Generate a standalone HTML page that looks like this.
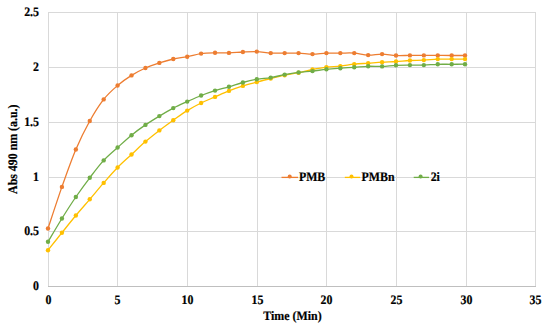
<!DOCTYPE html>
<html><head><meta charset="utf-8"><style>
html,body{margin:0;padding:0;background:#fff;width:550px;height:330px;overflow:hidden}
svg{display:block}
text{font-family:"Liberation Serif",serif;font-weight:bold;font-size:13px;fill:#000;stroke:#000;stroke-width:0.2px;text-rendering:geometricPrecision}
</style></head><body>
<svg width="550" height="330" viewBox="0 0 550 330">
<rect width="550" height="330" fill="#fff"/>
<g stroke="#D9D9D9" stroke-width="1" shape-rendering="crispEdges"><line x1="48.5" y1="12" x2="48.5" y2="286"/><line x1="117.5" y1="12" x2="117.5" y2="286"/><line x1="187.5" y1="12" x2="187.5" y2="286"/><line x1="257.5" y1="12" x2="257.5" y2="286"/><line x1="326.5" y1="12" x2="326.5" y2="286"/><line x1="396.5" y1="12" x2="396.5" y2="286"/><line x1="466.5" y1="12" x2="466.5" y2="286"/><line x1="535.5" y1="12" x2="535.5" y2="286"/><line x1="48" y1="12.5" x2="536" y2="12.5"/><line x1="48" y1="67.5" x2="536" y2="67.5"/><line x1="48" y1="122.5" x2="536" y2="122.5"/><line x1="48" y1="177.5" x2="536" y2="177.5"/><line x1="48" y1="231.5" x2="536" y2="231.5"/></g>
<line x1="48" y1="286.5" x2="536" y2="286.5" stroke="#BFBFBF" stroke-width="1" shape-rendering="crispEdges"/>
<path d="M48.00,228.50 C50.32,221.57 57.28,200.07 61.92,186.90 C66.56,173.73 71.20,160.48 75.84,149.50 C80.48,138.52 85.12,129.35 89.76,121.00 C94.40,112.65 99.04,105.32 103.68,99.40 C108.32,93.48 112.96,89.50 117.60,85.50 C122.24,81.50 126.88,78.32 131.52,75.40 C136.16,72.48 140.80,70.08 145.44,68.00 C150.08,65.92 154.72,64.40 159.36,62.90 C164.00,61.40 168.64,60.03 173.28,59.00 C177.92,57.97 182.56,57.60 187.20,56.70 C191.84,55.80 196.48,54.25 201.12,53.60 C205.76,52.95 210.40,52.92 215.04,52.80 C219.68,52.68 224.32,53.03 228.96,52.90 C233.60,52.77 238.24,52.22 242.88,52.00 C247.52,51.78 252.16,51.42 256.80,51.60 C261.44,51.78 266.08,52.85 270.72,53.10 C275.36,53.35 280.00,53.10 284.64,53.10 C289.28,53.10 293.92,52.93 298.56,53.10 C303.20,53.27 307.84,54.10 312.48,54.10 C317.12,54.10 321.76,53.27 326.40,53.10 C331.04,52.93 335.68,53.10 340.32,53.10 C344.96,53.10 349.60,52.77 354.24,53.10 C358.88,53.43 363.52,54.93 368.16,55.10 C372.80,55.27 377.44,54.03 382.08,54.10 C386.72,54.17 391.36,55.28 396.00,55.50 C400.64,55.72 405.28,55.42 409.92,55.40 C414.56,55.38 419.20,55.40 423.84,55.40 C428.48,55.40 433.12,55.38 437.76,55.40 C442.40,55.42 447.14,55.48 451.68,55.50 C456.22,55.52 462.78,55.50 465.00,55.50" fill="none" stroke="#ED7D31" stroke-width="1.3" stroke-linejoin="round"/><g fill="#ED7D31"><circle cx="48.00" cy="228.50" r="2.2"/><circle cx="61.92" cy="186.90" r="2.2"/><circle cx="75.84" cy="149.50" r="2.2"/><circle cx="89.76" cy="121.00" r="2.2"/><circle cx="103.68" cy="99.40" r="2.2"/><circle cx="117.60" cy="85.50" r="2.2"/><circle cx="131.52" cy="75.40" r="2.2"/><circle cx="145.44" cy="68.00" r="2.2"/><circle cx="159.36" cy="62.90" r="2.2"/><circle cx="173.28" cy="59.00" r="2.2"/><circle cx="187.20" cy="56.70" r="2.2"/><circle cx="201.12" cy="53.60" r="2.2"/><circle cx="215.04" cy="52.80" r="2.2"/><circle cx="228.96" cy="52.90" r="2.2"/><circle cx="242.88" cy="52.00" r="2.2"/><circle cx="256.80" cy="51.60" r="2.2"/><circle cx="270.72" cy="53.10" r="2.2"/><circle cx="284.64" cy="53.10" r="2.2"/><circle cx="298.56" cy="53.10" r="2.2"/><circle cx="312.48" cy="54.10" r="2.2"/><circle cx="326.40" cy="53.10" r="2.2"/><circle cx="340.32" cy="53.10" r="2.2"/><circle cx="354.24" cy="53.10" r="2.2"/><circle cx="368.16" cy="55.10" r="2.2"/><circle cx="382.08" cy="54.10" r="2.2"/><circle cx="396.00" cy="55.50" r="2.2"/><circle cx="409.92" cy="55.40" r="2.2"/><circle cx="423.84" cy="55.40" r="2.2"/><circle cx="437.76" cy="55.40" r="2.2"/><circle cx="451.68" cy="55.50" r="2.2"/><circle cx="465.00" cy="55.50" r="2.2"/></g><path d="M48.00,250.20 C50.32,247.28 57.28,238.48 61.92,232.70 C66.56,226.92 71.20,221.07 75.84,215.50 C80.48,209.93 85.12,204.73 89.76,199.30 C94.40,193.87 99.04,188.20 103.68,182.90 C108.32,177.60 112.96,172.23 117.60,167.50 C122.24,162.77 126.88,158.82 131.52,154.50 C136.16,150.18 140.80,145.62 145.44,141.60 C150.08,137.58 154.72,133.97 159.36,130.40 C164.00,126.83 168.64,123.50 173.28,120.20 C177.92,116.90 182.56,113.47 187.20,110.60 C191.84,107.73 196.48,105.28 201.12,103.00 C205.76,100.72 210.40,98.92 215.04,96.90 C219.68,94.88 224.32,92.73 228.96,90.90 C233.60,89.07 238.24,87.37 242.88,85.90 C247.52,84.43 252.16,83.33 256.80,82.10 C261.44,80.87 266.08,79.65 270.72,78.50 C275.36,77.35 280.00,76.17 284.64,75.20 C289.28,74.23 293.92,73.65 298.56,72.70 C303.20,71.75 307.84,70.43 312.48,69.50 C317.12,68.57 321.76,67.67 326.40,67.10 C331.04,66.53 335.68,66.58 340.32,66.10 C344.96,65.62 349.60,64.68 354.24,64.20 C358.88,63.72 363.52,63.53 368.16,63.20 C372.80,62.87 377.44,62.48 382.08,62.20 C386.72,61.92 391.36,61.78 396.00,61.50 C400.64,61.22 405.28,60.73 409.92,60.50 C414.56,60.27 419.20,60.33 423.84,60.10 C428.48,59.87 433.12,59.27 437.76,59.10 C442.40,58.93 447.14,59.10 451.68,59.10 C456.22,59.10 462.78,59.10 465.00,59.10" fill="none" stroke="#FFC000" stroke-width="1.3" stroke-linejoin="round"/><g fill="#FFC000"><circle cx="48.00" cy="250.20" r="2.2"/><circle cx="61.92" cy="232.70" r="2.2"/><circle cx="75.84" cy="215.50" r="2.2"/><circle cx="89.76" cy="199.30" r="2.2"/><circle cx="103.68" cy="182.90" r="2.2"/><circle cx="117.60" cy="167.50" r="2.2"/><circle cx="131.52" cy="154.50" r="2.2"/><circle cx="145.44" cy="141.60" r="2.2"/><circle cx="159.36" cy="130.40" r="2.2"/><circle cx="173.28" cy="120.20" r="2.2"/><circle cx="187.20" cy="110.60" r="2.2"/><circle cx="201.12" cy="103.00" r="2.2"/><circle cx="215.04" cy="96.90" r="2.2"/><circle cx="228.96" cy="90.90" r="2.2"/><circle cx="242.88" cy="85.90" r="2.2"/><circle cx="256.80" cy="82.10" r="2.2"/><circle cx="270.72" cy="78.50" r="2.2"/><circle cx="284.64" cy="75.20" r="2.2"/><circle cx="298.56" cy="72.70" r="2.2"/><circle cx="312.48" cy="69.50" r="2.2"/><circle cx="326.40" cy="67.10" r="2.2"/><circle cx="340.32" cy="66.10" r="2.2"/><circle cx="354.24" cy="64.20" r="2.2"/><circle cx="368.16" cy="63.20" r="2.2"/><circle cx="382.08" cy="62.20" r="2.2"/><circle cx="396.00" cy="61.50" r="2.2"/><circle cx="409.92" cy="60.50" r="2.2"/><circle cx="423.84" cy="60.10" r="2.2"/><circle cx="437.76" cy="59.10" r="2.2"/><circle cx="451.68" cy="59.10" r="2.2"/><circle cx="465.00" cy="59.10" r="2.2"/></g><path d="M48.00,241.80 C50.32,237.92 57.28,225.97 61.92,218.50 C66.56,211.03 71.20,203.78 75.84,197.00 C80.48,190.22 85.12,183.90 89.76,177.80 C94.40,171.70 99.04,165.45 103.68,160.40 C108.32,155.35 112.96,151.70 117.60,147.50 C122.24,143.30 126.88,138.97 131.52,135.20 C136.16,131.43 140.80,128.08 145.44,124.90 C150.08,121.72 154.72,118.90 159.36,116.10 C164.00,113.30 168.64,110.52 173.28,108.10 C177.92,105.68 182.56,103.70 187.20,101.60 C191.84,99.50 196.48,97.33 201.12,95.50 C205.76,93.67 210.40,92.05 215.04,90.60 C219.68,89.15 224.32,88.15 228.96,86.80 C233.60,85.45 238.24,83.75 242.88,82.50 C247.52,81.25 252.16,80.12 256.80,79.30 C261.44,78.48 266.08,78.38 270.72,77.60 C275.36,76.82 280.00,75.47 284.64,74.60 C289.28,73.73 293.92,72.98 298.56,72.40 C303.20,71.82 307.84,71.62 312.48,71.10 C317.12,70.58 321.76,69.78 326.40,69.30 C331.04,68.82 335.68,68.53 340.32,68.20 C344.96,67.87 349.60,67.62 354.24,67.30 C358.88,66.98 363.52,66.45 368.16,66.30 C372.80,66.15 377.44,66.57 382.08,66.40 C386.72,66.23 391.36,65.52 396.00,65.30 C400.64,65.08 405.28,65.13 409.92,65.10 C414.56,65.07 419.20,65.23 423.84,65.10 C428.48,64.97 433.12,64.43 437.76,64.30 C442.40,64.17 447.14,64.32 451.68,64.30 C456.22,64.28 462.78,64.22 465.00,64.20" fill="none" stroke="#70AD47" stroke-width="1.3" stroke-linejoin="round"/><g fill="#70AD47"><circle cx="48.00" cy="241.80" r="2.2"/><circle cx="61.92" cy="218.50" r="2.2"/><circle cx="75.84" cy="197.00" r="2.2"/><circle cx="89.76" cy="177.80" r="2.2"/><circle cx="103.68" cy="160.40" r="2.2"/><circle cx="117.60" cy="147.50" r="2.2"/><circle cx="131.52" cy="135.20" r="2.2"/><circle cx="145.44" cy="124.90" r="2.2"/><circle cx="159.36" cy="116.10" r="2.2"/><circle cx="173.28" cy="108.10" r="2.2"/><circle cx="187.20" cy="101.60" r="2.2"/><circle cx="201.12" cy="95.50" r="2.2"/><circle cx="215.04" cy="90.60" r="2.2"/><circle cx="228.96" cy="86.80" r="2.2"/><circle cx="242.88" cy="82.50" r="2.2"/><circle cx="256.80" cy="79.30" r="2.2"/><circle cx="270.72" cy="77.60" r="2.2"/><circle cx="284.64" cy="74.60" r="2.2"/><circle cx="298.56" cy="72.40" r="2.2"/><circle cx="312.48" cy="71.10" r="2.2"/><circle cx="326.40" cy="69.30" r="2.2"/><circle cx="340.32" cy="68.20" r="2.2"/><circle cx="354.24" cy="67.30" r="2.2"/><circle cx="368.16" cy="66.30" r="2.2"/><circle cx="382.08" cy="66.40" r="2.2"/><circle cx="396.00" cy="65.30" r="2.2"/><circle cx="409.92" cy="65.10" r="2.2"/><circle cx="423.84" cy="65.10" r="2.2"/><circle cx="437.76" cy="64.30" r="2.2"/><circle cx="451.68" cy="64.30" r="2.2"/><circle cx="465.00" cy="64.20" r="2.2"/></g>
<line x1="281.5" y1="177.4" x2="298" y2="177.4" stroke="#ED7D31" stroke-width="1.3"/><circle cx="289.7" cy="176.6" r="2" fill="#ED7D31"/><text x="298.9" y="180.7" textLength="26.39" lengthAdjust="spacingAndGlyphs">PMB</text><line x1="344.8" y1="177.4" x2="360.1" y2="177.4" stroke="#FFC000" stroke-width="1.3"/><circle cx="351.5" cy="176.6" r="2" fill="#FFC000"/><text x="361.6" y="180.7" textLength="33.00" lengthAdjust="spacingAndGlyphs">PMBn</text><line x1="413.7" y1="177.4" x2="429" y2="177.4" stroke="#70AD47" stroke-width="1.3"/><circle cx="420.6" cy="176.6" r="2" fill="#70AD47"/><text x="430.7" y="180.7" textLength="9.24" lengthAdjust="spacingAndGlyphs">2i</text>
<text x="39" y="15.7" text-anchor="end" textLength="14.85" lengthAdjust="spacingAndGlyphs">2.5</text><text x="39" y="70.7" text-anchor="end" textLength="5.94" lengthAdjust="spacingAndGlyphs">2</text><text x="39" y="125.7" text-anchor="end" textLength="14.85" lengthAdjust="spacingAndGlyphs">1.5</text><text x="39" y="180.7" text-anchor="end" textLength="5.94" lengthAdjust="spacingAndGlyphs">1</text><text x="39" y="234.7" text-anchor="end" textLength="14.85" lengthAdjust="spacingAndGlyphs">0.5</text><text x="39" y="289.7" text-anchor="end" textLength="5.94" lengthAdjust="spacingAndGlyphs">0</text>
<text x="48.5" y="303.6" text-anchor="middle" textLength="5.94" lengthAdjust="spacingAndGlyphs">0</text><text x="117.5" y="303.6" text-anchor="middle" textLength="5.94" lengthAdjust="spacingAndGlyphs">5</text><text x="187.5" y="303.6" text-anchor="middle" textLength="11.88" lengthAdjust="spacingAndGlyphs">10</text><text x="257.5" y="303.6" text-anchor="middle" textLength="11.88" lengthAdjust="spacingAndGlyphs">15</text><text x="326.5" y="303.6" text-anchor="middle" textLength="11.88" lengthAdjust="spacingAndGlyphs">20</text><text x="396.5" y="303.6" text-anchor="middle" textLength="11.88" lengthAdjust="spacingAndGlyphs">25</text><text x="466.5" y="303.6" text-anchor="middle" textLength="11.88" lengthAdjust="spacingAndGlyphs">30</text><text x="535.5" y="303.6" text-anchor="middle" textLength="11.88" lengthAdjust="spacingAndGlyphs">35</text>
<text x="292.5" y="319.7" text-anchor="middle" textLength="58.40" lengthAdjust="spacingAndGlyphs">Time (Min)</text>
<g transform="translate(16.5,149.2) rotate(-90)"><text x="0" y="0" text-anchor="middle" textLength="89.44" lengthAdjust="spacingAndGlyphs">Abs 490 nm (a.u.)</text></g>
</svg>
</body></html>
